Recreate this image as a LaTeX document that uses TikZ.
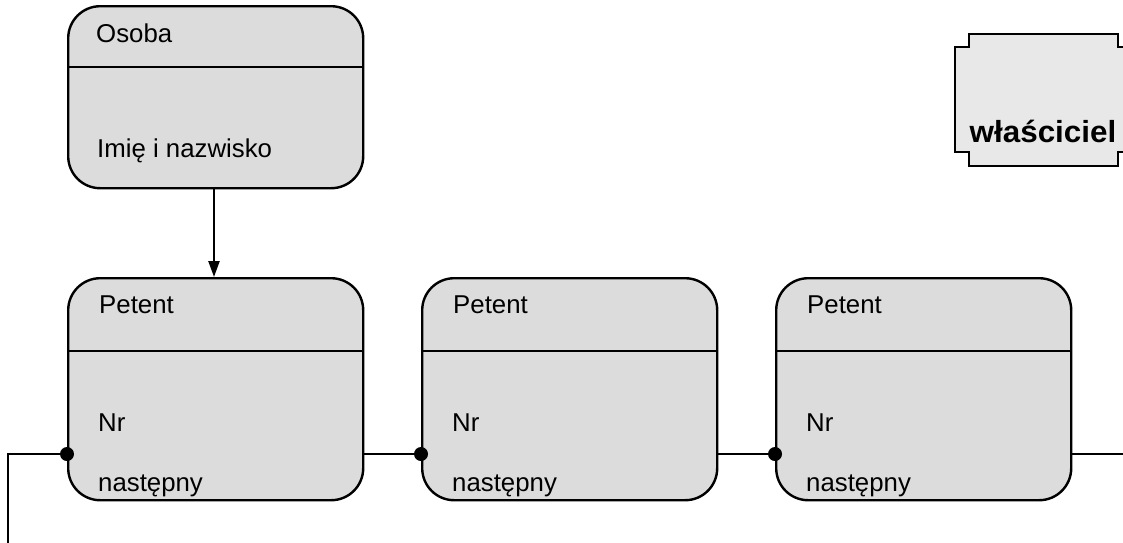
\documentclass[tikz,border=0pt]{standalone}
\usepackage{fontspec}
\setmainfont{Liberation Sans}
\usetikzlibrary{arrows.meta}
\definecolor{boxfill}{HTML}{DCDCDC}
\definecolor{ownerfill}{HTML}{E8E8E8}
\begin{document}
\begin{tikzpicture}[x=1pt,y=-1pt,
  entity/.style={draw=black, fill=boxfill, line width=2.4pt, rounded corners=32pt,
    minimum width=295pt, inner sep=0pt, anchor=north west},
  label/.style={anchor=base west, inner sep=0pt, font=\fontsize{25.8}{30}\selectfont},
  link/.style={line width=2.4pt},
  joint/.style={fill=black}]
\useasboundingbox (0,0) rectangle (1123,542);
\clip (0,0) rectangle (1123,542);

% Osoba
\node[entity, minimum height=182pt] (osoba) at (67,5) {};
\draw[link] (osoba.west |- 0,67) -- (osoba.east |- 0,67);
\node[label] (osobaT) at (96,42) {Osoba};
\node[label] (osobaA) at (97,157) {Imię i nazwisko};

% Petent list
\foreach \i/\x in {1/67, 2/421, 3/775}{
  \node[entity, minimum height=222pt] (p\i) at (\x,277) {};
  \draw[link] (p\i.west |- 0,351) -- (p\i.east |- 0,351);
  \node[label] (p\i T) at (\x+32,313) {Petent};
  \node[label] (p\i N) at (\x+31,431) {Nr};
  \node[label] (p\i X) at (\x+31,491) {następny};
}

% arrow Osoba -> Petent
\coordinate (ax) at (214,0);
\draw[link, -{Triangle[width=11pt,length=16pt]}] (osoba.south -| ax) -- (p1.north -| ax);

% chain of "następny" links
\coordinate (row) at (0,454);
\coordinate (p1in) at (p1.west |- row);
\coordinate (p2in) at (p2.west |- row);
\coordinate (p3in) at (p3.west |- row);
\coordinate (start) at (8,454);
\coordinate (startend) at (8,545);
\coordinate (tail) at (1130,454);
\draw[link] (startend) -- (start) -- (p1in);
\draw[link] (p1.east |- row) -- (p2in);
\draw[link] (p2.east |- row) -- (p3in);
\draw[link] (p3.east |- row) -- (tail);
\foreach \c in {p1in,p2in,p3in} \fill[joint] (\c) circle (7pt);

% właściciel
\draw[line width=2.4pt, fill=ownerfill] (969,34) -- (1118,34) -- (1118,47) -- (1132,47)
  -- (1132,152) -- (1118,152) -- (1118,166) -- (969,166) -- (969,152) -- (955,152)
  -- (955,47) -- (969,47) -- cycle;
\node[anchor=base, inner sep=0pt, font=\bfseries\fontsize{30.5}{34}\selectfont] (owner)
  at (1043,142) {\scalebox{1.03}[1]{właściciel}};
\end{tikzpicture}
\end{document}
